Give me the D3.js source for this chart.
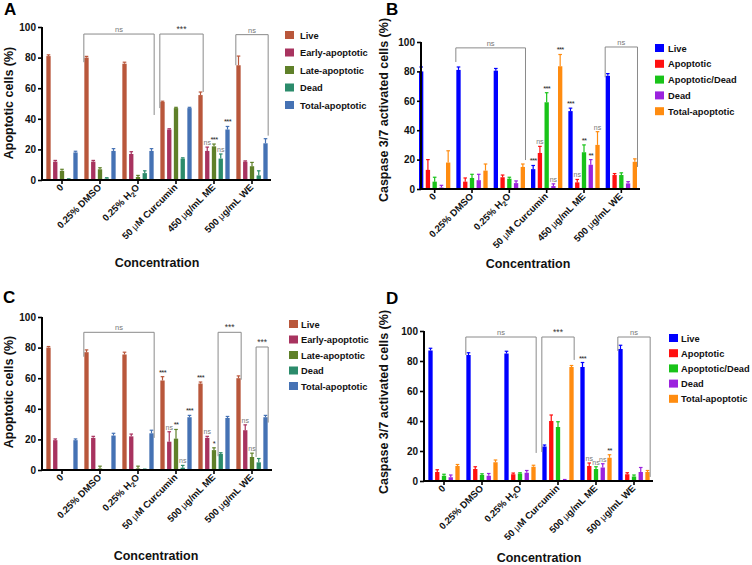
<!DOCTYPE html>
<html><head><meta charset="utf-8">
<script src="https://cdn.jsdelivr.net/npm/d3@7"></script>
<style>
body{margin:0;background:#fff}
svg{display:block}
text{font-family:Arial,"Liberation Sans",sans-serif}
</style>
</head><body>
<svg id="chart" width="752" height="565"></svg>
<script>
// ---------- data ----------
const groupsAB = ["0", "0.25% DMSO", "0.25% H2O", "50 μM Curcumin", "450 μg/mL ME", "500 μg/mL WE"];
const groupsCD = ["0", "0.25% DMSO", "0.25% H2O", "50 μM Curcumin", "500 μg/mL ME", "500 μg/mL WE"];
const seriesAC = ["Live", "Early-apoptotic", "Late-apoptotic", "Dead", "Total-apoptotic"];
const seriesBD = ["Live", "Apoptotic", "Apoptotic/Dead", "Dead", "Total-apoptotic"];
const yTicks = [0, 20, 40, 60, 80, 100];

// values[group][series]
const valuesA = [
  [81, 12, 6, 0.5, 18],
  [80, 12, 7, 1, 19],
  [76, 17, 2, 4.5, 19],
  [51, 33, 47, 14, 47],
  [55.5, 19, 22, 14, 33],
  [75, 12, 9, 3, 24]
];
const errorsA = [
  [0.8, 0.8, 1, 0.3, 0.8],
  [0.8, 0.8, 1, 0.5, 1.5],
  [1, 1.5, 1, 1.5, 1.5],
  [0.5, 0.5, 0.5, 0.5, 0.5],
  [2, 2.5, 1.5, 3, 2],
  [6, 0.5, 2.5, 3, 3]
];
const valuesB = [
  [80, 13, 5, 1, 18],
  [81, 5, 7.5, 6, 12.5],
  [80.5, 8, 7, 4, 15],
  [13.5, 24.5, 59, 2, 83.5],
  [53, 4.5, 25, 16.5, 30],
  [77, 9.5, 9.5, 3.8, 18.5]
];
const errorsB = [
  [3, 7, 3, 1.5, 8],
  [2, 2.5, 2.5, 4, 4.5],
  [1.5, 1.5, 1, 1.5, 2],
  [2.5, 4.5, 6.5, 1.5, 8],
  [2, 2, 5, 3.5, 9],
  [1.5, 1, 1.5, 1.2, 2]
];
const valuesC = [
  [80, 19.5, 0, 0, 19.5],
  [77, 21, 1, 0, 22.5],
  [75.5, 22, 1, 0.3, 24],
  [58.5, 18.5, 20.5, 1.5, 34.5],
  [56.5, 21, 13, 10.5, 34],
  [60, 26, 8.5, 5, 34.5]
];
const errorsC = [
  [0.7, 0.8, 0, 0, 0.8],
  [1.5, 1, 1.5, 0, 1.5],
  [1.5, 1.5, 1.5, 0.3, 2],
  [2.5, 6.5, 6, 1.5, 1.2],
  [1, 1, 1.5, 0.8, 1],
  [1.5, 3.5, 2.5, 2.5, 1.2]
];
const valuesD = [
  [87, 6, 3.5, 2.5, 10],
  [84, 8, 4, 3.5, 12.5],
  [85, 4.5, 5, 5.5, 9.5],
  [23, 40, 36, 0.5, 76],
  [76, 10, 8, 9, 15.5],
  [88, 4.5, 3, 6, 6]
];
const errorsD = [
  [1.5, 1.5, 1, 1.5, 1],
  [1.5, 1.5, 0.8, 1.5, 1.5],
  [1.5, 0.8, 0.5, 1.5, 1],
  [1, 4, 3.5, 0.5, 1],
  [3, 2, 1.5, 2.5, 2],
  [2.5, 1, 1, 3, 1]
];

// significance marks: [group, series, text]
const marksA = [[4,1,"ns"],[4,2,"***"],[4,3,"ns"],[4,4,"***"]];
const marksB = [[3,0,"***"],[3,1,"ns"],[3,2,"***"],[3,3,"ns"],[3,4,"***"],
                [4,0,"***"],[4,1,"ns"],[4,2,"**"],[4,3,"**"],[4,4,"ns"]];
const marksC = [[3,0,"***"],[3,1,"ns"],[3,2,"**"],[3,3,"ns"],[3,4,"***"],
                [4,0,"***"],[4,1,"ns"],[4,2,"*"],[5,1,"ns"],[5,2,"ns"]];
const marksD = [[4,0,"***"],[4,1,"ns"],[4,2,"ns"],[4,3,"ns"],[4,4,"**"]];

// brackets: [g1, s1, g2, s2, top, leftEnd, rightEnd, text] (values in %)
const bracketsA = [[1,0,2,4,95.4,77,42.5,"ns"],[3,0,4,0,95.4,47,57.5,"***"],[5,0,5,4,95,75,29,"ns"]];
const bracketsB = [[1,0,2,4,96,86.4,19.7,"ns"],[5,0,5,4,96.6,76,15,"ns"]];
const bracketsC = [[1,0,2,4,90,74,21,"ns"],[4,3,5,0,90,9,59,"***"],[5,3,5,4,80.4,8.5,31,"***"]];
const bracketsD = [[1,0,2,4,96,84,18.7,"ns"],[3,0,3,4,96,19.3,80.7,"***"],[5,0,5,4,96,86.7,2.7,"ns"]];

const colorsAC = ["#B9573B", "#A8335F", "#5F8029", "#2B8B6B", "#4572B4"];
const colorsBD = ["#0000FF", "#FF1010", "#19C319", "#9B22DE", "#FF8C10"];

// ---------- drawing ----------
const svg = d3.select("#chart");

function richText(sel, s) {
  const parts = s.split(/(μ|H2O)/).filter(p => p !== "");
  parts.forEach(p => {
    if (p === "μ") {
      sel.append("tspan").attr("font-weight", "normal").text("μ");
    } else if (p === "H2O") {
      sel.append("tspan").text("H");
      sel.append("tspan").attr("font-size", "7px").attr("dy", 2.5).text("2");
      sel.append("tspan").attr("dy", -2.5).text("O");
    } else {
      sel.append("tspan").text(p);
    }
  });
}

function panel(cfg) {
  const g = svg.append("g");
  const x0 = d3.scaleBand().domain(d3.range(cfg.groups.length)).range(cfg.xr).paddingInner(0).paddingOuter(0);
  const x1 = d3.scaleBand().domain(d3.range(cfg.series.length)).range([-16.875, 16.875]).paddingInner(0.36).paddingOuter(0.18);
  const y = d3.scaleLinear().domain([0, 100]).range([cfg.y0, cfg.y100]);
  const cx = gi => x0(gi) + x0.bandwidth() / 2;
  const bx = (gi, si) => cx(gi) + x1(si);
  const bw = x1.bandwidth();

  // bars
  cfg.values.forEach((row, gi) => {
    row.forEach((v, si) => {
      const col = cfg.colors[si];
      g.append("rect").attr("x", bx(gi, si)).attr("y", y(v)).attr("width", bw)
        .attr("height", Math.max(0, y(0) - y(v))).attr("fill", col);
      const e = cfg.errors[gi][si];
      if (e > 0) {
        const mx = bx(gi, si) + bw / 2;
        g.append("line").attr("x1", mx).attr("x2", mx).attr("y1", y(v)).attr("y2", y(v + e))
          .attr("stroke", col).attr("stroke-width", 1.2);
        g.append("line").attr("x1", mx - 1.8).attr("x2", mx + 1.8).attr("y1", y(v + e)).attr("y2", y(v + e))
          .attr("stroke", col).attr("stroke-width", 1.2);
      }
    });
  });

  // y axis
  const ya = g.append("g").attr("transform", `translate(${cfg.ax},0)`)
    .call(d3.axisLeft(y).tickValues(yTicks).tickSize(4).tickSizeOuter(0).tickPadding(2));
  ya.select(".domain").remove();
  ya.selectAll(".tick line").attr("stroke", "#000").attr("stroke-width", 1.6);
  ya.selectAll(".tick text").attr("font-size", "10px").attr("font-weight", "bold").attr("fill", "#111")
    .attr("font-family", "Arial, 'Liberation Sans', sans-serif");
  g.append("line").attr("x1", cfg.ax).attr("x2", cfg.ax).attr("y1", y(0) + 1).attr("y2", y(100))
    .attr("stroke", "#000").attr("stroke-width", 2);

  // x axis
  const xa = g.append("g").attr("transform", `translate(0,${cfg.y0})`)
    .call(d3.axisBottom(x0).tickSize(4).tickSizeOuter(0).tickFormat(""));
  xa.select(".domain").remove();
  xa.selectAll(".tick line").attr("stroke", "#000").attr("stroke-width", 1.6);
  g.append("line").attr("x1", cfg.ax - 1).attr("x2", cfg.xEnd).attr("y1", cfg.y0).attr("y2", cfg.y0)
    .attr("stroke", "#000").attr("stroke-width", 2);

  cfg.groups.forEach((lab, gi) => {
    const t = g.append("text").attr("transform", `translate(${cx(gi) + 2},${cfg.y0 + 8}) rotate(-45)`)
      .attr("text-anchor", "end").attr("font-size", "9.5px").attr("font-weight", "bold").attr("fill", "#111");
    richText(t, lab);
  });

  // axis titles
  g.append("text").attr("transform", `translate(${cfg.ylabX},${cfg.ylabY}) rotate(-90)`)
    .attr("text-anchor", "middle").attr("font-size", cfg.ylabSize).attr("font-weight", "bold").attr("fill", "#111")
    .text(cfg.ylabel);
  g.append("text").attr("x", cfg.xlabX).attr("y", cfg.xlabY).attr("text-anchor", "middle")
    .attr("font-size", "12.5px").attr("font-weight", "bold").attr("fill", "#111").text("Concentration");
  g.append("text").attr("x", cfg.letter[1]).attr("y", cfg.letter[2]).attr("font-size", "17px")
    .attr("font-weight", "bold").attr("fill", "#000").text(cfg.letter[0]);

  // significance marks
  cfg.marks.forEach(([gi, si, txt]) => {
    const v = cfg.values[gi][si] + cfg.errors[gi][si];
    g.append("text").attr("x", bx(gi, si) + bw / 2).attr("y", y(v) - 2).attr("text-anchor", "middle")
      .attr("font-size", txt === "ns" ? "7px" : "7.5px").attr("letter-spacing", txt === "ns" ? 0 : -0.6)
      .attr("fill", txt === "ns" ? "#777" : "#222").text(txt);
  });

  // brackets
  cfg.brackets.forEach(([g1, s1, g2, s2, top, le, re, txt]) => {
    const xl = bx(g1, s1) - 0.5, xr = bx(g2, s2) + bw + 0.5;
    g.append("path").attr("d", `M${xl},${y(le)}V${y(top)}H${xr}V${y(re)}`)
      .attr("fill", "none").attr("stroke", "#8a8a8a").attr("stroke-width", 1);
    g.append("text").attr("x", (xl + xr) / 2).attr("y", y(top) - 2).attr("text-anchor", "middle")
      .attr("font-size", txt === "ns" ? "7.5px" : "8.5px").attr("fill", txt === "ns" ? "#777" : "#333").text(txt);
  });

  // legend
  cfg.series.forEach((s, si) => {
    const ly = cfg.leg.y + si * cfg.leg.dy;
    g.append("rect").attr("x", cfg.leg.x).attr("y", ly - 4).attr("width", 9).attr("height", 8).attr("fill", cfg.colors[si]);
    g.append("text").attr("x", cfg.leg.x + cfg.leg.tx).attr("y", ly + 3.5).attr("font-size", "9.3px")
      .attr("font-weight", "bold").attr("fill", "#111").text(s);
  });
}

panel({groups: groupsAB, series: seriesAC, values: valuesA, errors: errorsA, colors: colorsAC,
  marks: marksA, brackets: bracketsA, xr: [43, 271], ax: 42, xEnd: 271, y0: 180, y100: 27,
  ylabel: "Apoptotic cells (%)", ylabX: 13, ylabY: 103, ylabSize: "12.5px", xlabX: 157, xlabY: 267,
  letter: ["A", 4, 15], leg: {x: 285, tx: 15, y: 35, dy: 17.5}});
panel({groups: groupsAB, series: seriesBD, values: valuesB, errors: errorsB, colors: colorsBD,
  marks: marksB, brackets: bracketsB, xr: [416, 640], ax: 421, xEnd: 640, y0: 189, y100: 42,
  ylabel: "Caspase 3/7 activated cells (%)", ylabX: 388, ylabY: 110, ylabSize: "12.5px", xlabX: 528, xlabY: 268,
  letter: ["B", 386, 15], leg: {x: 655, tx: 13, y: 48, dy: 15.8}});
panel({groups: groupsCD, series: seriesAC, values: valuesC, errors: errorsC, colors: colorsAC,
  marks: marksC, brackets: bracketsC, xr: [43, 271], ax: 42, xEnd: 272, y0: 470, y100: 317,
  ylabel: "Apoptotic cells (%)", ylabX: 13, ylabY: 392, ylabSize: "12.5px", xlabX: 156, xlabY: 560,
  letter: ["C", 3, 303], leg: {x: 289, tx: 12, y: 324, dy: 15.5}});
panel({groups: groupsCD, series: seriesBD, values: valuesD, errors: errorsD, colors: colorsBD,
  marks: marksD, brackets: bracketsD, xr: [425, 653], ax: 424, xEnd: 653, y0: 481, y100: 331,
  ylabel: "Caspase 3/7 activated cells (%)", ylabX: 388, ylabY: 402, ylabSize: "12.5px", xlabX: 539, xlabY: 562,
  letter: ["D", 386, 304], leg: {x: 669, tx: 12, y: 338, dy: 15.2}});
</script>
</body></html>
